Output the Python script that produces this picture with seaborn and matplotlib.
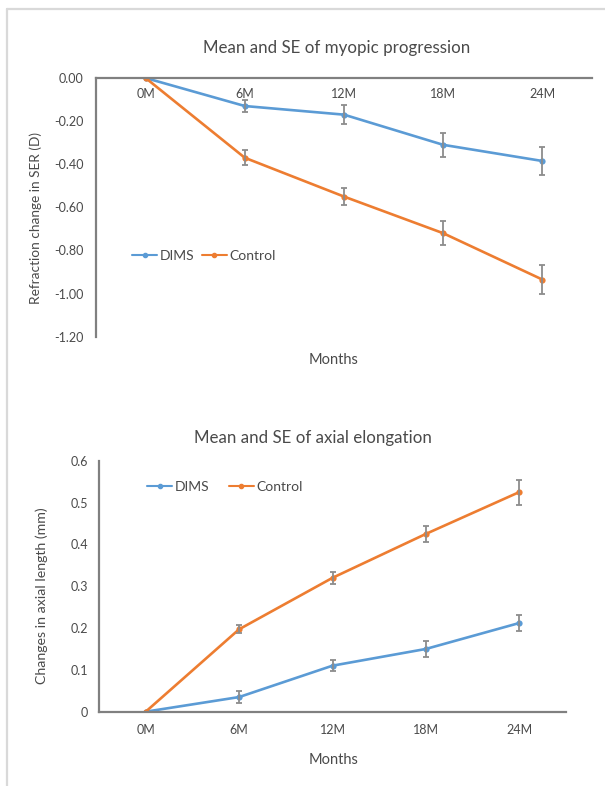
import numpy as np
import pandas as pd
import matplotlib
matplotlib.use("Agg")
import matplotlib.pyplot as plt
import seaborn as sns
from matplotlib.lines import Line2D

#Data
months = ["0M", "6M", "12M", "18M", "24M"]
groups = ["DIMS", "Control"]

#Mean and SE of myopic progression (D)
ser_dims = [0.00, -0.13, -0.17, -0.31, -0.385]
ser_dims_se = [0.0, 0.03, 0.045, 0.055, 0.066]
ser_control = [0.00, -0.37, -0.55, -0.72, -0.935]
ser_control_se = [0.0, 0.035, 0.04, 0.055, 0.068]

#Mean and SE of axial elongation (mm)
al_dims = [0.00, 0.035, 0.11, 0.15, 0.212]
al_dims_se = [0.0, 0.015, 0.013, 0.02, 0.02]
al_control = [0.00, 0.197, 0.32, 0.425, 0.525]
al_control_se = [0.0, 0.01, 0.015, 0.02, 0.03]

ser_ticks = [0.0, -0.2, -0.4, -0.6, -0.8, -1.0, -1.2]
al_ticks = [0.0, 0.1, 0.2, 0.3, 0.4, 0.5, 0.6]

blue = "#5B9BD5"
orange = "#ED7D31"
text_col = "#4a4a4a"
axis_col = "#808080"

sns.set_style("white")
plt.rcParams["font.family"] = ["Lato", "DejaVu Sans"]
plt.rcParams["axes.unicode_minus"] = False


def make_df(dims, control):
    rows = []
    for g, vals in zip(groups, [dims, control]):
        for i, v in enumerate(vals):
            rows.append({"month": i, "group": g, "value": v})
    return pd.DataFrame(rows)


def draw(ax, dims, dims_se, control, control_se):
    df = make_df(dims, control)
    sns.lineplot(data=df, x="month", y="value", hue="group",
                 palette={"DIMS": blue, "Control": orange},
                 marker="o", markersize=4.5, markeredgewidth=0,
                 linewidth=1.9, ax=ax, legend=False)
    x = np.arange(len(months))
    for vals, se in [(dims, dims_se), (control, control_se)]:
        m = np.array(se) > 0
        ax.errorbar(x[m], np.array(vals)[m], yerr=np.array(se)[m], fmt="none",
                    ecolor="#8c8c8c", elinewidth=1.3, capsize=2.2,
                    capthick=1.3, zorder=5)
    ax.set_xlim(-0.5, 4.5)
    ax.set_xlabel("")
    ax.set_ylabel("")
    for s in ax.spines.values():
        s.set_visible(False)
    ax.spines["left"].set_visible(True)
    ax.spines["left"].set_color(axis_col)
    ax.spines["left"].set_linewidth(1.6)


def legend(ax, loc_xy, colspace):
    handles = [Line2D([], [], color=blue, lw=1.5, marker="o", markersize=3),
               Line2D([], [], color=orange, lw=1.5, marker="o", markersize=3)]
    ax.legend(handles, groups, loc="center", bbox_to_anchor=loc_xy,
              bbox_transform=fig.transFigure, ncol=2, frameon=False,
              fontsize=10, handlelength=1.8, handletextpad=0.2,
              columnspacing=colspace, labelcolor=text_col)


fig = plt.figure(figsize=(6.05, 7.86), dpi=100)
W, H = 605.0, 786.0

#Top chart
ax1 = fig.add_axes([96 / W, 1 - 336.7 / H, 496 / W, 258.7 / H])
draw(ax1, ser_dims, ser_dims_se, ser_control, ser_control_se)
ax1.set_ylim(-1.2, 0)
ax1.spines["top"].set_visible(True)
ax1.spines["top"].set_color(axis_col)
ax1.spines["top"].set_linewidth(1.6)
ax1.set_yticks(ser_ticks)
ax1.set_yticklabels([f"{t:.2f}" for t in ser_ticks])
ax1.set_xticks(range(len(months)))
ax1.set_xticklabels(months)
ax1.xaxis.set_ticks_position("top")
ax1.tick_params(axis="x", length=0, pad=-15.5, labelsize=9, labelcolor=text_col)
ax1.tick_params(axis="y", length=0, pad=9, labelsize=9, labelcolor=text_col)
legend(ax1, (204 / W, 1 - 256 / H), 0.5)

fig.text(337 / W, 1 - 48 / H, "Mean and SE of myopic progression", ha="center",
         va="center", fontsize=12.2, color=text_col)
fig.text(36 / W, 1 - 218 / H, "Refraction change in SER (D)", ha="center",
         va="center", rotation=90, fontsize=9.8, color=text_col)
fig.text(334 / W, 1 - 360 / H, "Months", ha="center", va="center",
         fontsize=10.5, color=text_col)

#Bottom chart
ax2 = fig.add_axes([99 / W, 1 - 711.7 / H, 467 / W, 251 / H])
draw(ax2, al_dims, al_dims_se, al_control, al_control_se)
ax2.set_ylim(0, 0.6)
ax2.spines["bottom"].set_visible(True)
ax2.spines["bottom"].set_color(axis_col)
ax2.spines["bottom"].set_linewidth(1.6)
ax2.set_yticks(al_ticks)
ax2.set_yticklabels([f"{t:g}" for t in al_ticks])
ax2.set_xticks(range(len(months)))
ax2.set_xticklabels(months)
ax2.tick_params(axis="x", length=0, pad=9, labelsize=9, labelcolor=text_col)
ax2.tick_params(axis="y", length=0, pad=8, labelsize=9, labelcolor=text_col)
legend(ax2, (225 / W, 1 - 487 / H), 1.4)

fig.text(313 / W, 1 - 438 / H, "Mean and SE of axial elongation", ha="center",
         va="center", fontsize=12.2, color=text_col)
fig.text(42 / W, 1 - 596 / H, "Changes in axial length (mm)", ha="center",
         va="center", rotation=90, fontsize=10.2, color=text_col)
fig.text(334 / W, 1 - 760 / H, "Months", ha="center", va="center",
         fontsize=10.5, color=text_col)

#Light grey frame on the left and top of the picture
fig.add_artist(Line2D([7 / W, 7 / W], [0, 1 - 9 / H], color="#d9d9d9", lw=1.6))
fig.add_artist(Line2D([7 / W, 1], [1 - 9 / H, 1 - 9 / H], color="#d9d9d9", lw=1.6))

fig.savefig("out.png", dpi=100)
